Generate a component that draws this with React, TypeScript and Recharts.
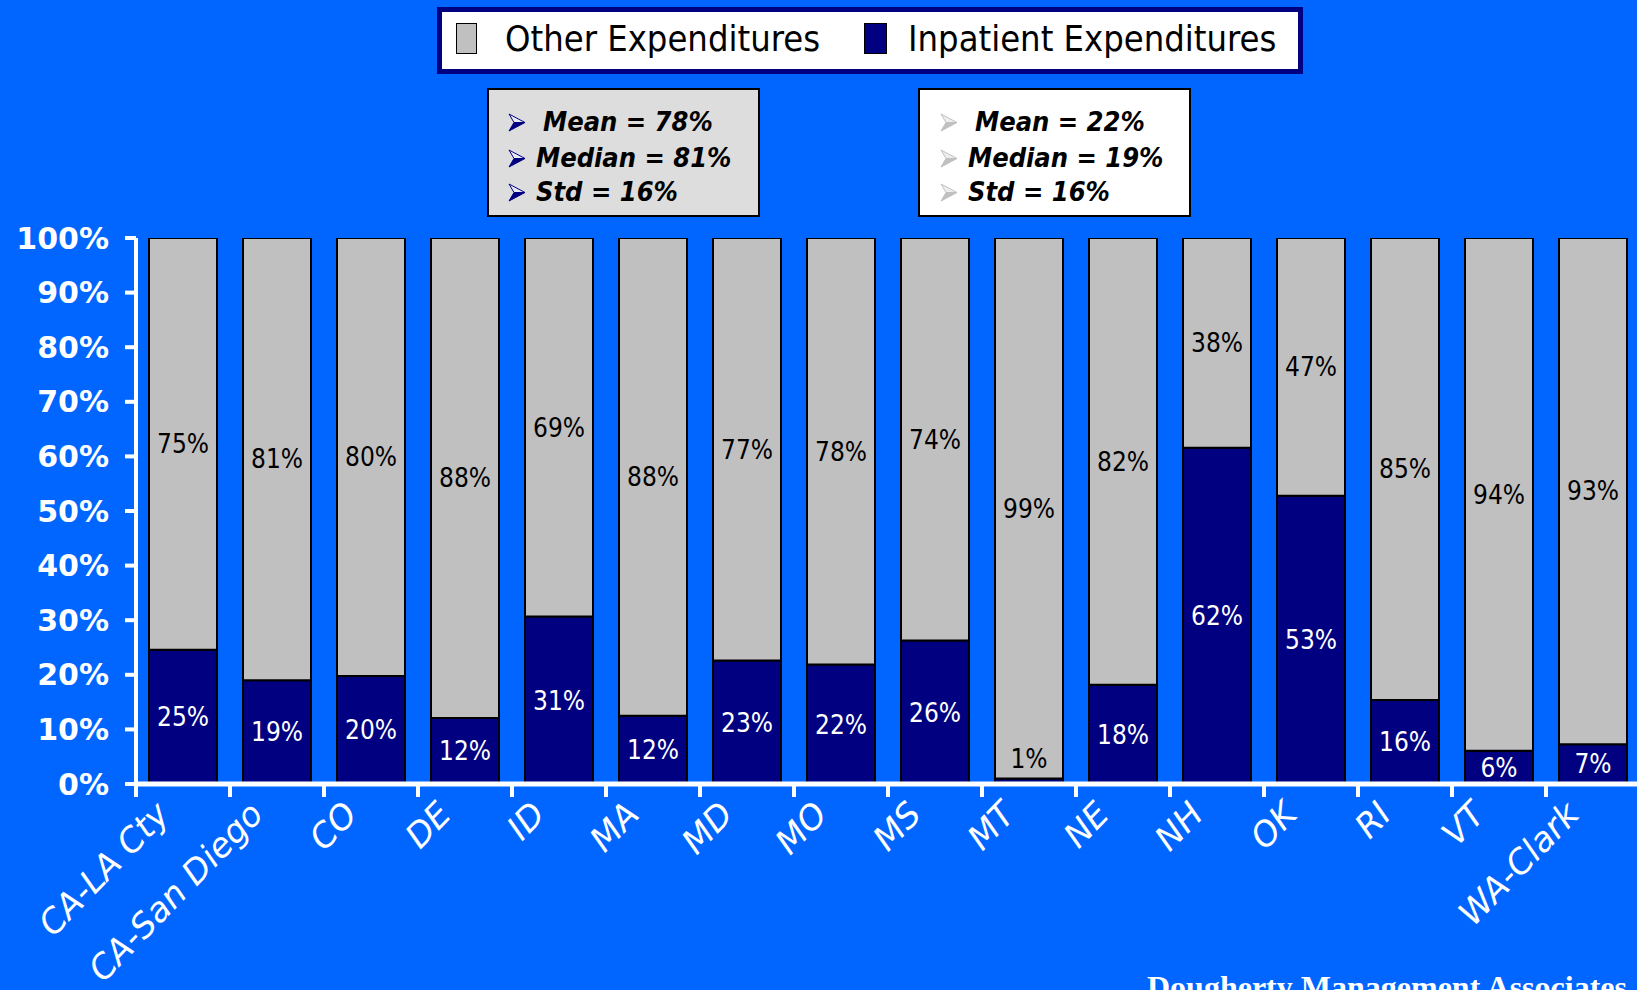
import React from "react";
import { BarChart, Bar, XAxis, YAxis, LabelList } from "recharts";

const categories = ["CA-LA Cty", "CA-San Diego", "CO", "DE", "ID", "MA", "MD", "MO", "MS", "MT", "NE", "NH", "OK", "RI", "VT", "WA-Clark"];
const inpatientValues = [24.6, 19.0, 19.8, 12.1, 30.7, 12.5, 22.6, 21.9, 26.3, 1.0, 18.2, 61.6, 52.8, 15.4, 6.1, 7.3];
const otherValues = [75.4, 81.0, 80.2, 87.9, 69.3, 88.1, 77.4, 78.1, 73.7, 99.0, 81.8, 38.4, 47.2, 84.6, 93.9, 92.7];
const inpatientLabels = ["25%", "19%", "20%", "12%", "31%", "12%", "23%", "22%", "26%", "1%", "18%", "62%", "53%", "16%", "6%", "7%"];
const otherLabels = ["75%", "81%", "80%", "88%", "69%", "88%", "77%", "78%", "74%", "99%", "82%", "38%", "47%", "85%", "94%", "93%"];
const yTicks = [0, 10, 20, 30, 40, 50, 60, 70, 80, 90, 100];
const otherStats = ["Mean = 78%", "Median = 81%", "Std = 16%"];
const inpatientStats = ["Mean = 22%", "Median = 19%", "Std = 16%"];

const data = categories.map((c, i) => ({
  name: c,
  inpatient: inpatientValues[i],
  other: otherValues[i],
}));

const BG = "#0066FF";
const NAVY = "#000080";
const GRAY = "#C0C0C0";
const SANS = "'DejaVu Sans', Verdana, sans-serif";

const CHART_W = 1660;
const CHART_H = 990;
const PLOT_LEFT = 136;
const PLOT_RIGHT = 1640;
const PLOT_TOP = 238;
const PLOT_BOTTOM = 784;
const X_AXIS_H = 150;
const BAND = (PLOT_RIGHT - PLOT_LEFT) / categories.length;

const XTick = (props: any) => {
  const { x, y, payload } = props;
  return (
    <g>
      <line x1={x - BAND / 2} x2={x - BAND / 2} y1={y} y2={y + 13} stroke="#fff" strokeWidth={4} />
      <text
        transform={`translate(${x - 12},${y + 32}) rotate(-46)`}
        textAnchor="end"
        fill="#fff"
        fontFamily={SANS}
        fontStyle="italic"
        fontSize={34}
      >
        {payload.value}
      </text>
    </g>
  );
};

const makeLabel = (kind: "in" | "other") => (props: any) => {
  const { x, y, width, height, index } = props;
  const h = Math.abs(height);
  const top = Math.min(y, y + height);
  let cy = top + h / 2;
  let color = kind === "in" ? "#fff" : "#000";
  if (h < 20) {
    cy = top - 20;
    color = "#000";
  }
  const txt = kind === "in" ? inpatientLabels[index] : otherLabels[index];
  return (
    <text
      x={x + width / 2}
      y={cy}
      dy="0.36em"
      textAnchor="middle"
      fill={color}
      fontFamily={SANS}
      fontStretch="condensed"
      fontSize={26}
    >
      {txt}
    </text>
  );
};

const Arrow = ({ dark, light, left, top }: { dark: string; light: string; left: number; top: number }) => (
  <svg style={{ position: "absolute", left, top }} width={18} height={19} viewBox="0 0 18 19">
    <polygon points="1,1 17,9.5 6,9.5" fill={light} stroke={dark} strokeWidth={1} strokeLinejoin="round" />
    <polygon points="6,9.5 17,9.5 1,18" fill={dark} stroke={dark} strokeWidth={1} strokeLinejoin="round" />
  </svg>
);

const StatBox = (p: { left: number; bg: string; dark: string; light: string; lines: string[]; arrowX: number; textX: number[] }) => {
  const centers = [32, 68, 102];
  return (
    <div
      style={{
        position: "absolute",
        left: p.left,
        top: 88,
        width: 273,
        height: 129,
        boxSizing: "border-box",
        border: "2px solid #000",
        background: p.bg,
      }}
    >
      {p.lines.map((t, i) => (
        <React.Fragment key={i}>
          <Arrow dark={p.dark} light={p.light} left={p.arrowX} top={centers[i] - 9} />
          <span
            style={{
              position: "absolute",
              left: p.textX[i],
              top: centers[i] - 16,
              height: 32,
              lineHeight: "32px",
              fontFamily: SANS,
              fontStretch: "condensed",
              fontStyle: "italic",
              fontWeight: "bold",
              fontSize: 27,
              color: "#000",
              whiteSpace: "nowrap",
            }}
          >
            {t}
          </span>
        </React.Fragment>
      ))}
    </div>
  );
};

export default function App() {
  return (
    <div
      style={{
        position: "absolute",
        left: 0,
        top: 0,
        width: 1637,
        height: 990,
        background: BG,
        overflow: "hidden",
      }}
    >
      <div style={{ position: "absolute", left: 0, top: 0 }}>
        <BarChart
          width={CHART_W}
          height={CHART_H}
          data={data}
          margin={{ top: PLOT_TOP, right: CHART_W - PLOT_RIGHT, bottom: CHART_H - PLOT_BOTTOM - X_AXIS_H, left: 0 }}
          barSize={68}
        >
          <XAxis
            dataKey="name"
            height={X_AXIS_H}
            interval={0}
            tickLine={false}
            tickSize={0}
            tickMargin={0}
            axisLine={{ stroke: "#fff", strokeWidth: 5 }}
            tick={<XTick />}
          />
          <YAxis
            width={PLOT_LEFT}
            domain={[0, 100]}
            ticks={yTicks}
            allowDataOverflow
            tickFormatter={(v: number) => `${v}%`}
            axisLine={{ stroke: "#fff", strokeWidth: 4 }}
            tickLine={{ stroke: "#fff", strokeWidth: 4 }}
            tickSize={11}
            tickMargin={16}
            tick={{ fill: "#fff", fontFamily: SANS, fontWeight: "bold", fontSize: 30 }}
          />
          <Bar dataKey="inpatient" stackId="a" fill={NAVY} stroke="#000" strokeWidth={2} isAnimationActive={false}>
            <LabelList dataKey="inpatient" content={makeLabel("in")} />
          </Bar>
          <Bar dataKey="other" stackId="a" fill={GRAY} stroke="#000" strokeWidth={2} isAnimationActive={false}>
            <LabelList dataKey="other" content={makeLabel("other")} />
          </Bar>
        </BarChart>
      </div>

      {/* Legend */}
      <div
        style={{
          position: "absolute",
          left: 437,
          top: 7,
          width: 866,
          height: 67,
          boxSizing: "border-box",
          border: `5px solid ${NAVY}`,
          background: "#fff",
        }}
      >
        <div style={{ position: "absolute", left: 14, top: 11, width: 21, height: 31, boxSizing: "border-box", border: "1.5px solid #000", background: GRAY }} />
        <span style={{ position: "absolute", left: 63, top: 7, lineHeight: "40px", fontFamily: SANS, fontStretch: "condensed", fontSize: 36, color: "#000", whiteSpace: "nowrap" }}>
          Other Expenditures
        </span>
        <div style={{ position: "absolute", left: 422, top: 11, width: 23, height: 31, boxSizing: "border-box", border: "1.5px solid #000", background: NAVY }} />
        <span style={{ position: "absolute", left: 466, top: 7, lineHeight: "40px", fontFamily: SANS, fontStretch: "condensed", fontSize: 36, color: "#000", whiteSpace: "nowrap" }}>
          Inpatient Expenditures
        </span>
      </div>

      <StatBox left={487} bg="#DDDDDD" dark={NAVY} light="#E8E8F4" lines={otherStats} arrowX={19} textX={[54, 47, 47]} />
      <StatBox left={918} bg="#FFFFFF" dark="#C0C0C0" light="#EEEEEE" lines={inpatientStats} arrowX={20} textX={[55, 48, 48]} />

      <svg style={{ position: "absolute", left: 0, top: 0 }} width={1637} height={990}>
        <text x={1147} y={998} fill="#fff" fontFamily="'Liberation Serif', 'Times New Roman', serif" fontWeight="bold" fontSize={32}>
          Dougherty Management Associates
        </text>
      </svg>
    </div>
  );
}
